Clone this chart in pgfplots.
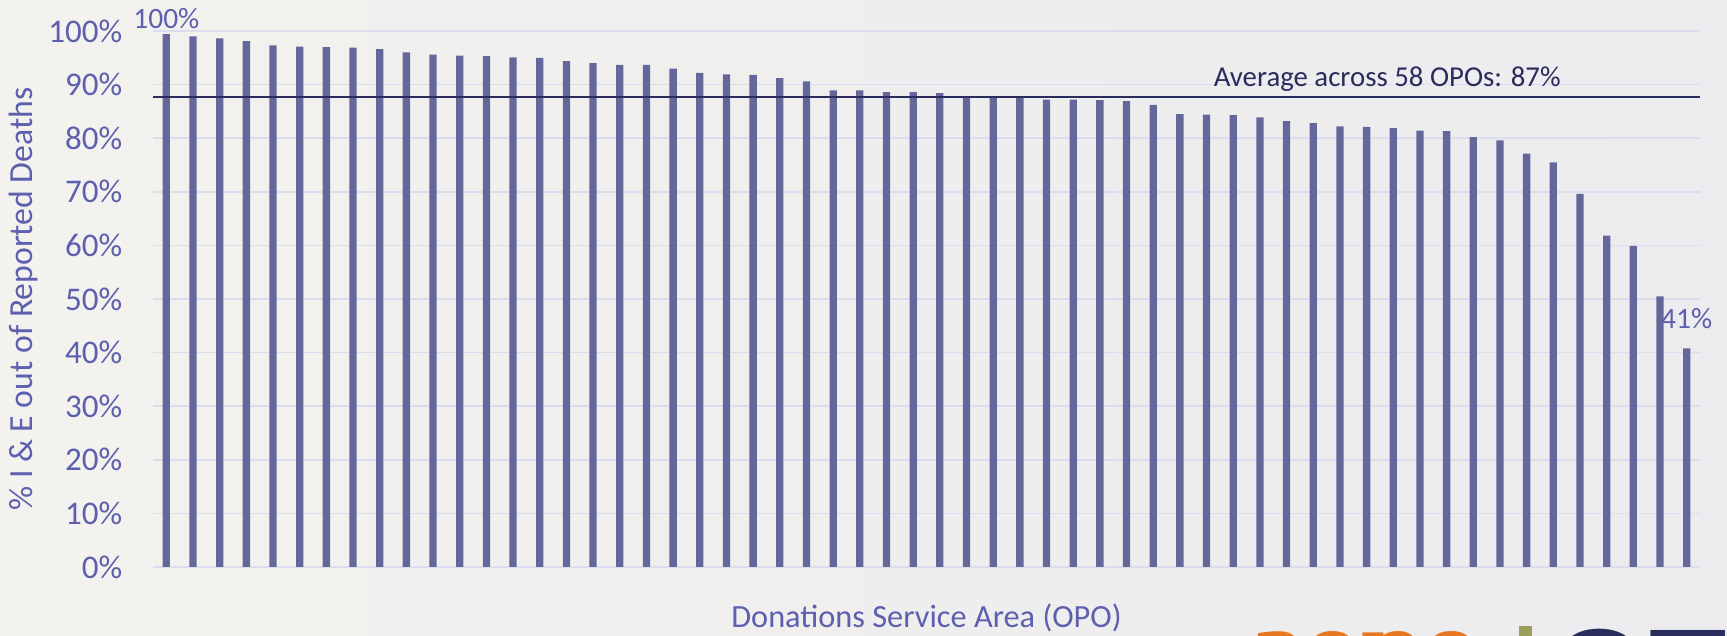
\documentclass[border=0pt]{standalone}
\usepackage{fontspec}
\setmainfont{Carlito}
\usepackage{pgfplots}
\pgfplotsset{compat=1.18}
\definecolor{bar}{HTML}{65679A}
\definecolor{tick}{HTML}{5D5FAF}
\definecolor{navy}{HTML}{2B2C5E}
\definecolor{gridc}{HTML}{DCDCF0}
\definecolor{bgl}{HTML}{F3F2EE}
\definecolor{bgr}{HTML}{ECEBEE}
\definecolor{aopo}{HTML}{E87722}
\definecolor{gbar}{HTML}{9AA05A}
\begin{document}
\begin{tikzpicture}
\path[use as bounding box] (0,0) rectangle (172.7mm,63.6mm);
\shade[left color=bgl, right color=bgr] (0,0) rectangle (172.7mm,63.6mm);
\begin{scope}
\clip (0,0) rectangle (172.7mm,63.6mm);
\node[anchor=base west, inner sep=0pt, text=aopo, font={\fontspec{Liberation Serif}\bfseries\fontsize{32}{34}\selectfont}] at (124.8mm,-4.9mm) {aopo};
\fill[gbar] (151.9mm,-2mm) rectangle (153.2mm,1.0mm);
\node[anchor=base west, inner sep=0pt, text=navy, font={\fontspec{Liberation Sans}\bfseries\fontsize{36}{38}\selectfont}] at (155mm,-8.2mm) {OTP};
\end{scope}
\begin{axis}[
  at={(15.3mm,6.9mm)}, anchor=south west,
  scale only axis, width=154.7mm, height=53.6mm,
  xmin=0.5, xmax=58.5, ymin=0, ymax=100,
  axis line style={draw=none},
  xtick=\empty,
  ytick={0,10,...,100},
  yticklabels={0\%,10\%,20\%,30\%,40\%,50\%,60\%,70\%,80\%,90\%,100\%},
  major tick length=0pt,
  ymajorgrids, grid style={gridc, line width=0.15mm},
  yticklabel style={text=tick, font=\fontsize{9.4}{11}\selectfont, inner sep=0pt, xshift=-3mm},
  xlabel={Donations Service Area (OPO)},
  ylabel={\% I \& E out of Reported Deaths},
  every axis x label/.style={at={(axis description cs:0.5,-0.112)}, anchor=base, text=tick, font=\fontsize{9.2}{11}\selectfont},
  every axis y label/.style={at={(axis description cs:-0.0834,0.5)}, anchor=center, rotate=90, text=tick, font=\fontsize{9.6}{11}\selectfont},
  clip=false,
]
\addplot[ybar, bar width=0.73mm, fill=bar, draw=none] coordinates {
(1,99.4) (2,99.0) (3,98.6) (4,98.1) (5,97.3) (6,97.1) (7,97.0) (8,96.9) (9,96.6) (10,96.0)
(11,95.6) (12,95.4) (13,95.3) (14,95.1) (15,95.0) (16,94.4) (17,94.0) (18,93.7) (19,93.7) (20,93.0)
(21,92.2) (22,91.9) (23,91.8) (24,91.2) (25,90.6) (26,88.9) (27,88.9) (28,88.6) (29,88.6) (30,88.4)
(31,87.8) (32,87.8) (33,87.6) (34,87.2) (35,87.2) (36,87.1) (37,86.9) (38,86.2) (39,84.5) (40,84.4)
(41,84.3) (42,83.9) (43,83.2) (44,82.8) (45,82.2) (46,82.1) (47,81.9) (48,81.4) (49,81.3) (50,80.2)
(51,79.6) (52,77.1) (53,75.5) (54,69.6) (55,61.8) (56,59.9) (57,50.5) (58,40.8)
};
\addplot[navy, line width=0.23mm] coordinates {(0.5,87.7) (58.5,87.7)};
\node[anchor=base, text=navy, font=\fontsize{8.2}{10}\selectfont, inner sep=0pt] at (axis cs:46.77,87.7) [yshift=1mm] {Average across 58 OPOs: 87\%};
\node[anchor=base, text=tick, font=\fontsize{8.4}{10}\selectfont, inner sep=0pt] at (axis cs:1,99.4) [yshift=0.55mm] {100\%};
\node[anchor=base, text=tick, font=\fontsize{8.4}{10}\selectfont, inner sep=0pt] at (axis cs:58,40.8) [yshift=2mm] {41\%};
\end{axis}
\end{tikzpicture}
\end{document}
